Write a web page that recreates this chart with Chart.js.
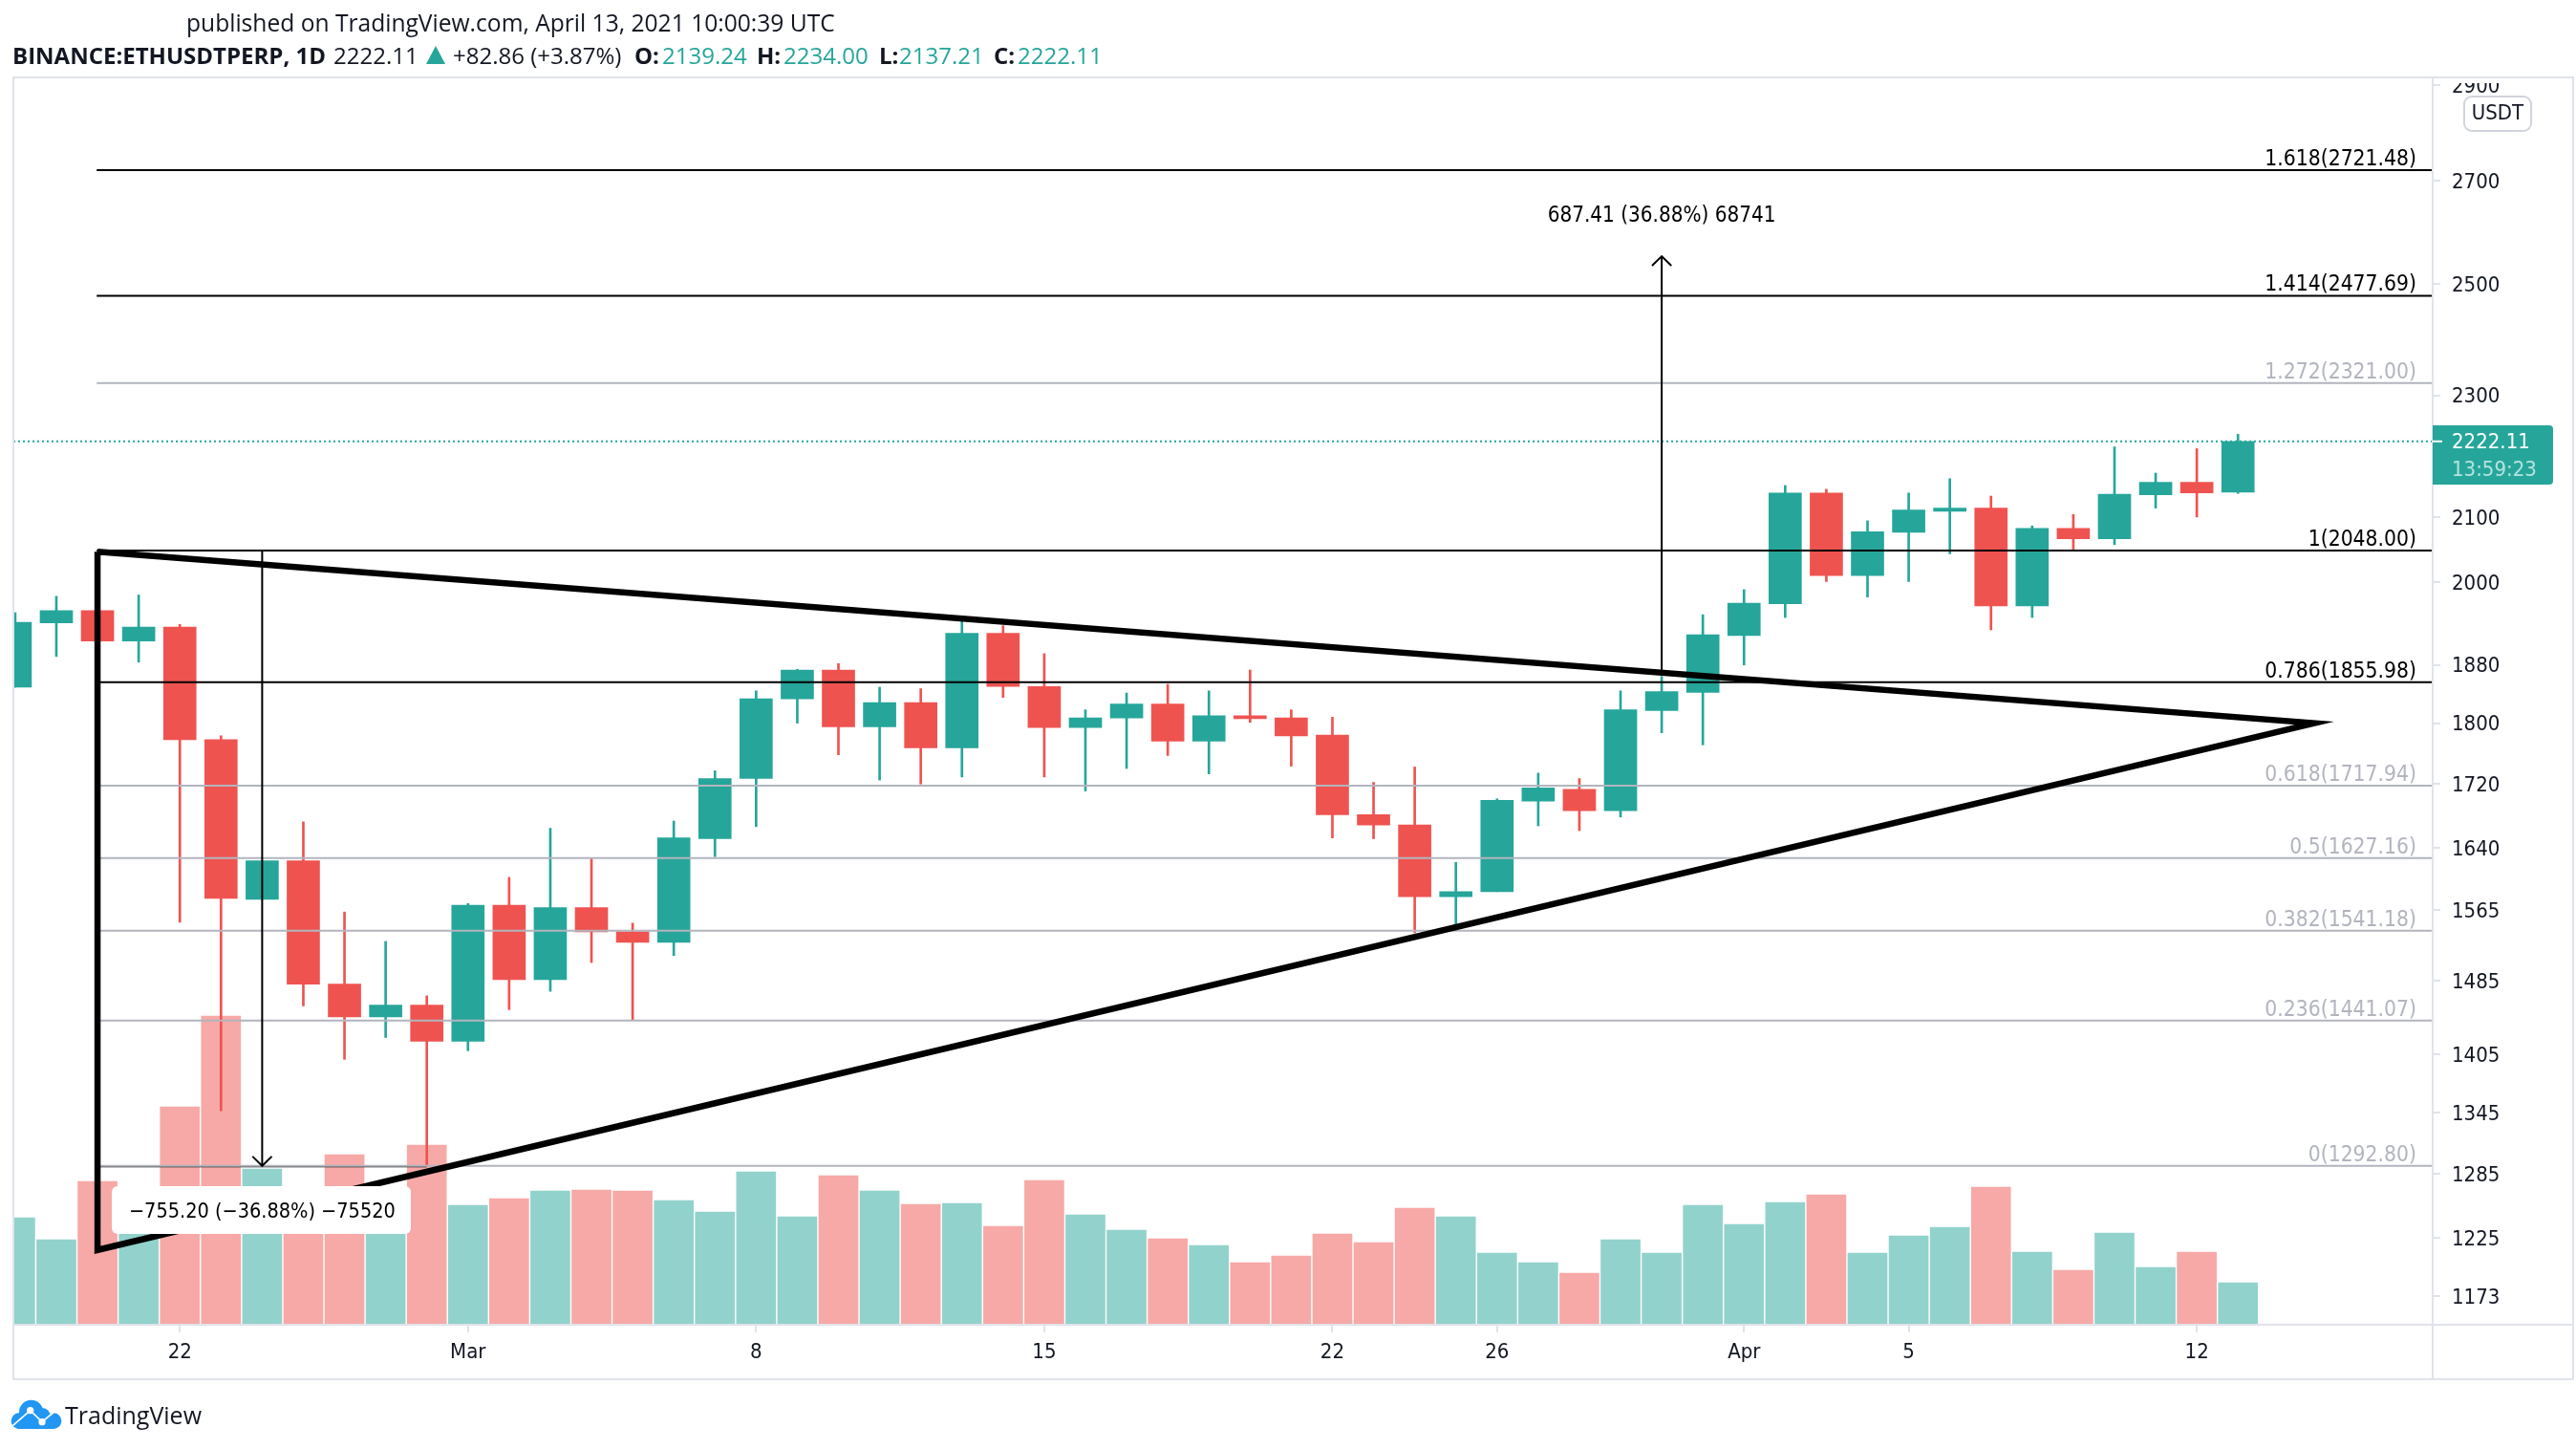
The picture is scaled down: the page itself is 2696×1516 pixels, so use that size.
<!DOCTYPE html>
<html>
<head>
<meta charset="utf-8">
<script src="https://cdn.jsdelivr.net/npm/chart.js@4/dist/chart.umd.min.js"></script>
<style>
  html, body { margin: 0; background: #fff; }
  #wrap { position: relative; width: 2696px; height: 1516px; overflow: hidden; }
  canvas { position: absolute; left: 0; top: 0; }
  .hd { position: absolute; white-space: nowrap; font-family: "Open Sans", sans-serif; font-size: 24px; line-height: 30px; color: #131722; }
  .b { font-weight: 700; }
  .g { color: #26a69a; }
</style>
</head>
<body>
<div id="wrap">
  <canvas id="chart" width="2696" height="1516"></canvas>
  <div class="hd" style="left:195px;top:9px;font-size:24.6px">published on TradingView.com, April 13, 2021 10:00:39 UTC</div>
  <div class="hd b" style="left:13px;top:43px">BINANCE:ETHUSDTPERP, 1D</div>
  <div class="hd" style="left:349px;top:43px">2222.11</div>
  <svg style="position:absolute;left:446px;top:48px" width="20" height="19"><polygon points="10,0 20,19 0,19" fill="#26a69a"/></svg>
  <div class="hd" style="left:474px;top:43px">+82.86 (+3.87%)</div>
  <div class="hd b" style="left:664px;top:43px">O:</div>
  <div class="hd g" style="left:693px;top:43px">2139.24</div>
  <div class="hd b" style="left:792px;top:43px">H:</div>
  <div class="hd g" style="left:820px;top:43px">2234.00</div>
  <div class="hd b" style="left:920px;top:43px">L:</div>
  <div class="hd g" style="left:941px;top:43px">2137.21</div>
  <div class="hd b" style="left:1040px;top:43px">C:</div>
  <div class="hd g" style="left:1065px;top:43px">2222.11</div>
  <svg style="position:absolute;left:0;top:1440px" width="240" height="76" viewBox="0 0 720 228">
    <g fill="#2196f3">
      <circle cx="98" cy="112" r="38"/><circle cx="60" cy="140" r="25"/><circle cx="168" cy="140" r="25"/>
      <circle cx="135" cy="122" r="22"/><rect x="55" y="125" width="115" height="40"/>
    </g>
    <polyline points="40,155 95,107 132,143 178,105" fill="none" stroke="#fff" stroke-width="5"/>
    <circle cx="95" cy="107" r="11" fill="#fff"/><circle cx="132" cy="143" r="11" fill="#fff"/>
  </svg>
  <div class="hd" style="left:68px;top:1465px;font-size:25px">TradingView</div>
</div>
<script>
// daily candles, index 0 = Feb 18 2021, last = Apr 13 2021
const opens = [1849,1940,1958,1914,1934,1778,1578,1624,1481,1445,1458,1419,1571,1486,1568,1540,1528,1651,1727,1833,1873,1795,1828,1767,1925,1850,1794,1807,1826,1776,1810,1807,1784,1681,1668,1581,1587,1698,1713,1686,1817,1842,1922,1968,2138,2010,2076,2109,2114,1965,2082,2066,2135,2155,2139.24];
const highs = [1955,1979,1958,1981,1938,1783,1624,1672,1563,1529,1468,1573,1604,1664,1627,1550,1673,1737,1844,1874,1882,1849,1847,1943,1936,1896,1818,1841,1853,1844,1873,1818,1808,1722,1742,1622,1701,1734,1727,1844,1864,1952,1989,2150,2144,2094,2138,2161,2133,2086,2104,2213,2170,2210,2234];
const lows = [1849,1892,1914,1884,1551,1347,1578,1457,1400,1423,1293,1409,1453,1473,1505,1442,1513,1629,1666,1800,1758,1725,1720,1729,1835,1729,1711,1740,1757,1733,1801,1743,1652,1651,1539,1544,1587,1667,1661,1678,1787,1771,1880,1948,2001,1978,2001,2043,1930,1948,2050,2057,2114,2100,2137.21];
const closes = [1941,1958,1914,1934,1778,1579,1624,1481,1445,1458,1419,1571,1486,1568,1540,1528,1652,1727,1833,1873,1795,1828,1767,1925,1850,1794,1807,1826,1776,1810,1806,1783,1681,1668,1581,1587,1699,1715,1686,1818,1843,1923,1969,2138,2010,2077,2111,2114,1965,2082,2066,2136,2155,2138,2222.11];
const volumes = [112,89,150,103,228,323,163,141,178,116,188,125,132,140,141,140,130,118,160,113,156,140,126,127,103,151,115,99,90,83,65,72,95,86,122,113,75,65,54,89,75,125,105,128,136,75,93,102,144,76,57,96,60,76,44];

const xTickDays = [4,11,18,25,32,36,42,46,53];
const xTickLabels = ['22','Mar','8','15','22','26','Apr','5','12'];
const yTicks = [2900,2700,2500,2300,2100,2000,1880,1800,1720,1640,1565,1485,1405,1345,1285,1225,1173];

const fibRatios = ['1.618','1.414','1.272','1','0.786','0.618','0.5','0.382','0.236','0'];
const fibPrices = [2721.48,2477.69,2321.00,2048.00,1855.98,1717.94,1627.16,1541.18,1441.07,1292.80];
const fibDark = ['1.618','1.414','1','0.786'];

const lastPrice = 2222.11;
const triangleX = [2,2,55.85,2];
const triangleY = [2046,1214,1800,2046];
const upArrowX = 40, upArrowFrom = 1865, upArrowTo = 2552;
const downArrowX = 6, downArrowFrom = 2048, downArrowTo = 1292.8;

const UP = '#26a69a', DOWN = '#ef5350';
const UP_VOL = '#92d2cc', DOWN_VOL = '#f7a9a7';
const GRAY = '#b2b5be', AXIS = '#e0e3eb', INK = '#131722';
const FONT = '"DejaVu Sans Condensed", "DejaVu Sans", sans-serif';
const X_MIN = -0.044, X_MAX = 58.73;

const candleIdx = opens.map((_, i) => i);
const isUp = i => closes[i] >= opens[i];

function line(points, color, width, order, extra) {
  return Object.assign({
    type: 'line',
    data: points.map(p => ({ x: p[0], y: p[1] })),
    borderColor: color,
    borderWidth: width,
    pointRadius: 0,
    fill: false,
    order: order,
    yAxisID: 'y'
  }, extra || {});
}

const datasets = [
  {
    type: 'bar', yAxisID: 'yVol', order: 9, grouped: false, barThickness: 41,
    data: candleIdx.map(i => ({ x: i, y: volumes[i] })),
    backgroundColor: candleIdx.map(i => isUp(i) ? UP_VOL : DOWN_VOL)
  },
  {
    type: 'bar', yAxisID: 'y', order: 8, grouped: false, barThickness: 2,
    data: candleIdx.map(i => ({ x: i, y: [lows[i], highs[i]] })),
    backgroundColor: candleIdx.map(i => isUp(i) ? UP : DOWN)
  },
  {
    type: 'bar', yAxisID: 'y', order: 7, grouped: false, barThickness: 34,
    data: candleIdx.map(i => ({ x: i, y: [opens[i], closes[i]] })),
    backgroundColor: candleIdx.map(i => isUp(i) ? UP : DOWN)
  },
  line([[X_MIN, lastPrice], [X_MAX, lastPrice]], UP, 2, 6, { borderDash: [2, 3] }),
  line([[2, 1292.4], [10, 1292.4]], '#000', 2, 5),
  line([[upArrowX, upArrowFrom], [upArrowX, upArrowTo]], '#000', 2, 3),
  line([[upArrowX - 0.235, 2534], [upArrowX, upArrowTo], [upArrowX + 0.235, 2534]], '#000', 2, 3),
  line([[downArrowX, downArrowFrom], [downArrowX, downArrowTo]], '#000', 2, 3),
  line([[downArrowX - 0.235, 1302], [downArrowX, downArrowTo], [downArrowX + 0.235, 1302]], '#000', 2, 3),
  line(triangleX.map((x, i) => [x, triangleY[i]]), '#000', 6.5, 1, { borderJoinStyle: 'miter' })
];
fibPrices.forEach((p, i) => {
  const dark = fibDark.includes(fibRatios[i]);
  datasets.push(line([[1.98, p], [X_MAX, p]], dark ? '#000' : GRAY, 2, 4));
});

function roundRect(ctx, x, y, w, h, r) {
  ctx.beginPath();
  ctx.roundRect(x, y, w, h, r);
}

const overlay = {
  id: 'overlay',
  afterDatasetsDraw(chart) {
    const ctx = chart.ctx, xs = chart.scales.x, ys = chart.scales.y;
    ctx.save();
    ctx.font = '22.7px ' + FONT;
    ctx.textBaseline = 'alphabetic';

    ctx.textAlign = 'right';
    fibPrices.forEach((p, i) => {
      ctx.fillStyle = fibDark.includes(fibRatios[i]) ? '#000' : GRAY;
      ctx.fillText(fibRatios[i] + '(' + p.toFixed(2) + ')', 2529, ys.getPixelForValue(p) - 5);
    });

    ctx.textAlign = 'center';
    ctx.textBaseline = 'middle';
    ctx.fillStyle = '#000';
    ctx.font = '22.3px ' + FONT;
    ctx.fillText('687.41 (36.88%) 68741', xs.getPixelForValue(upArrowX), 226);

    ctx.fillStyle = '#fff';
    roundRect(ctx, 117, 1241, 313, 50, 6);
    ctx.fill();
    ctx.fillStyle = '#000';
    ctx.font = '21.5px ' + FONT;
    ctx.fillText('\u2212755.20 (\u221236.88%) \u221275520', xs.getPixelForValue(downArrowX), 1268);
    ctx.restore();
  },
  afterDraw(chart) {
    const ctx = chart.ctx, ys = chart.scales.y;
    const a = chart.chartArea;
    ctx.save();
    // top tick label is cut by the pane edge
    ctx.fillStyle = '#fff';
    ctx.fillRect(a.right + 1, 0, 150, 87);

    ctx.strokeStyle = AXIS;
    ctx.lineWidth = 2;
    ctx.strokeRect(14, 81, 2679, 1362);
    ctx.beginPath();
    ctx.moveTo(14, a.bottom); ctx.lineTo(2693, a.bottom);
    ctx.moveTo(a.right, 81); ctx.lineTo(a.right, 1443);
    ctx.stroke();

    // USDT badge
    ctx.fillStyle = '#fff';
    ctx.strokeStyle = '#d1d4dc';
    roundRect(ctx, 2579, 101, 70, 36, 8);
    ctx.fill(); ctx.stroke();
    ctx.font = '22px ' + FONT;
    ctx.textAlign = 'center';
    ctx.textBaseline = 'middle';
    ctx.fillStyle = INK;
    ctx.fillText('USDT', 2614, 119);

    // last price tag
    const py = ys.getPixelForValue(lastPrice);
    ctx.fillStyle = UP;
    roundRect(ctx, a.right, 445, 126, 62, [0, 4, 4, 0]);
    ctx.fill();
    ctx.strokeStyle = '#fff';
    ctx.beginPath();
    ctx.moveTo(a.right, py); ctx.lineTo(a.right + 10, py);
    ctx.stroke();
    ctx.textAlign = 'left';
    ctx.fillStyle = '#fff';
    ctx.fillText(lastPrice.toFixed(2), 2566, py + 2);
    ctx.fillStyle = '#b5e3df';
    ctx.fillText('13:59:23', 2566, 492);
    ctx.restore();
  }
};

new Chart(document.getElementById('chart'), {
  data: { datasets: datasets },
  plugins: [overlay],
  options: {
    responsive: false,
    animation: false,
    devicePixelRatio: 1,
    layout: { padding: { top: 81, left: 14, right: 3, bottom: 73 } },
    plugins: { legend: { display: false }, tooltip: { enabled: false } },
    scales: {
      x: {
        type: 'linear', position: 'bottom', min: X_MIN, max: X_MAX, offset: false,
        afterBuildTicks: s => { s.ticks = xTickDays.map(v => ({ value: v })); },
        afterFit: s => { s.height = 57; },
        border: { display: false },
        grid: { offset: false, drawOnChartArea: false, drawTicks: true, tickLength: 8, color: AXIS, lineWidth: 2 },
        ticks: {
          autoSkip: false, maxRotation: 0, padding: 8, color: INK,
          font: { family: FONT, size: 22 },
          callback: v => xTickLabels[xTickDays.indexOf(v)]
        }
      },
      y: {
        type: 'logarithmic', position: 'right', min: 1148, max: 2917,
        afterBuildTicks: s => { s.ticks = yTicks.map(v => ({ value: v })); },
        afterFit: s => { s.width = 147; },
        border: { display: false },
        grid: { drawOnChartArea: false, drawTicks: true, tickLength: 8, color: AXIS, lineWidth: 2 },
        ticks: {
          autoSkip: false, padding: 12, labelOffset: 2, color: INK,
          font: { family: FONT, size: 22 },
          callback: v => String(v)
        }
      },
      yVol: { type: 'linear', display: false, min: 0, max: 1305 }
    }
  }
});
</script>
</body>
</html>
